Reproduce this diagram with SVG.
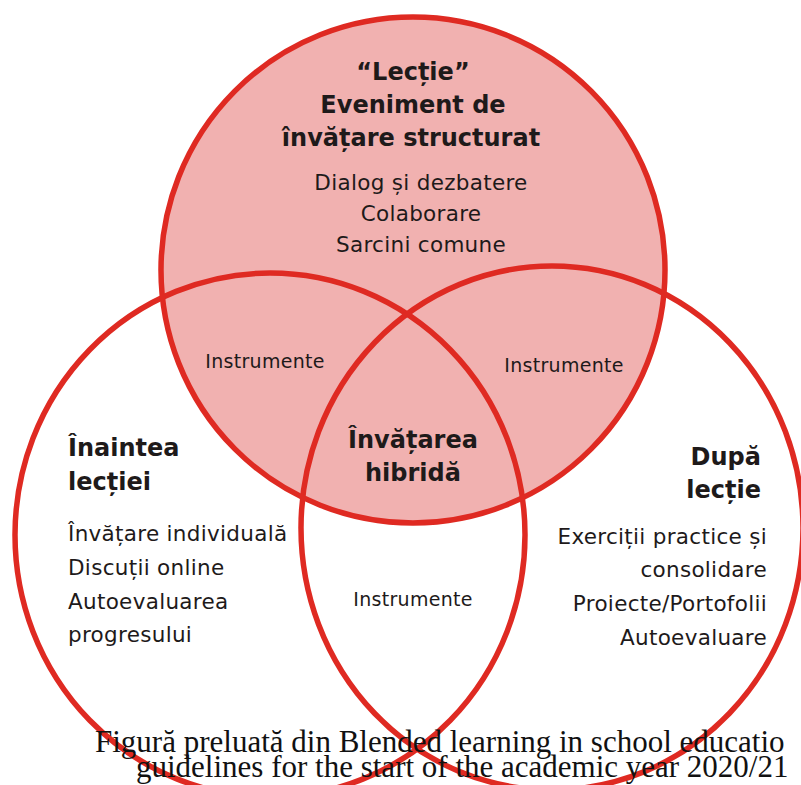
<svg xmlns="http://www.w3.org/2000/svg" width="801" height="785" viewBox="0 0 801 785">
<style>
.ring{fill:none;stroke:#df2a22;stroke-width:5.5}
.b{font-family:"DejaVu Sans",sans-serif;font-weight:bold;font-size:24px;fill:#1e1a1a}
.r{font-family:"DejaVu Sans",sans-serif;font-size:21.5px;letter-spacing:0.3px;fill:#1e1a1a}
.s{font-family:"DejaVu Sans",sans-serif;font-size:19px;letter-spacing:0.3px;fill:#1e1a1a}
.cap{font-family:"Liberation Serif",serif;font-size:31px;fill:#111}
</style>
<rect width="801" height="785" fill="#ffffff"/>
<g id="fills">
<ellipse cx="413" cy="270" rx="252" ry="253" fill="#f1b1b0"/>
</g>
<g id="connectors">
<ellipse class="ring" cx="270" cy="535" rx="255" ry="262"/>
<ellipse class="ring" cx="552" cy="528" rx="251" ry="262"/>
<ellipse class="ring" cx="413" cy="270" rx="252" ry="253"/>
</g>
<g id="lectie">
<text class="b" x="413" y="80" text-anchor="middle">“Lecție”</text>
<text class="b" x="413" y="113" text-anchor="middle">Eveniment de</text>
<text class="b" x="411" y="146" text-anchor="middle">învățare structurat</text>
<text class="r" x="421" y="190" text-anchor="middle">Dialog și dezbatere</text>
<text class="r" x="421" y="221" text-anchor="middle">Colaborare</text>
<text class="r" x="421" y="252" text-anchor="middle">Sarcini comune</text>
</g>
<g id="instr-left"><text class="s" x="265" y="368" text-anchor="middle">Instrumente</text></g>
<g id="instr-right"><text class="s" x="564" y="372" text-anchor="middle">Instrumente</text></g>
<g id="instr-bottom"><text class="s" x="413" y="606" text-anchor="middle">Instrumente</text></g>
<g id="hibrid">
<text class="b" x="413" y="448" text-anchor="middle">Învățarea</text>
<text class="b" x="413" y="481" text-anchor="middle">hibridă</text>
</g>
<g id="inaintea">
<text class="b" x="68" y="456">Înaintea</text>
<text class="b" x="68" y="490">lecției</text>
<text class="r" x="68" y="541">Învățare individuală</text>
<text class="r" x="68" y="575">Discuții online</text>
<text class="r" x="68" y="609">Autoevaluarea</text>
<text class="r" x="68" y="642">progresului</text>
</g>
<g id="dupa">
<text class="b" x="761" y="465" text-anchor="end">După</text>
<text class="b" x="761" y="498" text-anchor="end">lecție</text>
<text class="r" x="767" y="544" text-anchor="end">Exerciții practice și</text>
<text class="r" x="767" y="577" text-anchor="end">consolidare</text>
<text class="r" x="767" y="611" text-anchor="end">Proiecte/Portofolii</text>
<text class="r" x="767" y="645" text-anchor="end">Autoevaluare</text>
</g>
<g id="caption">
<text class="cap"><tspan x="95" y="752">Figură preluată din Blended learning in school educatio</tspan><tspan x="136" y="777">guidelines for the start of the academic year 2020/21</tspan></text>
</g>
</svg>
